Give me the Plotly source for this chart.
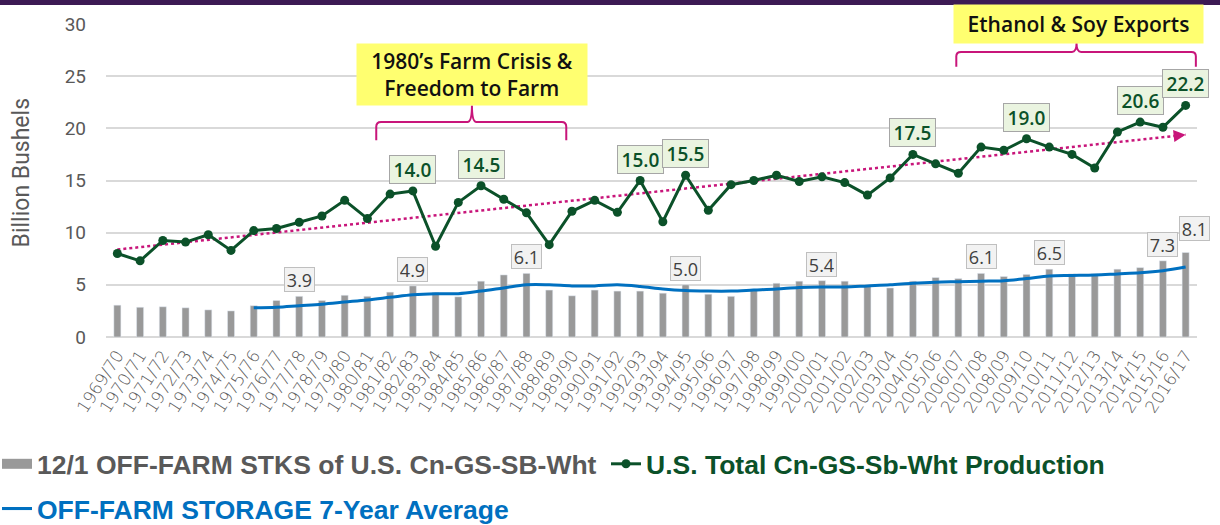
import numpy as np
import plotly.graph_objects as go

# marketing years
seasons = [
    "1969/70", "1970/71", "1971/72", "1972/73", "1973/74", "1974/75", "1975/76",
    "1976/77", "1977/78", "1978/79", "1979/80", "1980/81", "1981/82", "1982/83",
    "1983/84", "1984/85", "1985/86", "1986/87", "1987/88", "1988/89", "1989/90",
    "1990/91", "1991/92", "1992/93", "1993/94", "1994/95", "1995/96", "1996/97",
    "1997/98", "1998/99", "1999/00", "2000/01", "2001/02", "2002/03", "2003/04",
    "2004/05", "2005/06", "2006/07", "2007/08", "2008/09", "2009/10", "2010/11",
    "2011/12", "2012/13", "2013/14", "2014/15", "2015/16", "2016/17",
]

# 12/1 off-farm stocks, billion bushels
off_farm_stocks = [
    3.05, 2.85, 2.9, 2.8, 2.6, 2.5, 3.0, 3.5, 3.9, 3.5, 4.0, 3.9, 4.3, 4.9,
    4.25, 3.85, 5.35, 5.95, 6.1, 4.5, 3.95, 4.5, 4.4, 4.4, 4.2, 5.0, 4.1, 3.9,
    4.6, 5.15, 5.35, 5.4, 5.35, 4.85, 4.7, 5.35, 5.7, 5.6, 6.1, 5.8, 6.0, 6.5,
    6.05, 6.05, 6.5, 6.65, 7.3, 8.1,
]

# total corn / sorghum / soybean / wheat production
production = [
    8.0, 7.3, 9.25, 9.1, 9.8, 8.3, 10.2, 10.4, 11.0, 11.6, 13.1, 11.35, 13.7,
    14.0, 8.7, 12.9, 14.5, 13.2, 11.9, 8.85, 12.05, 13.1, 11.95, 15.0, 11.05,
    15.5, 12.15, 14.6, 15.0, 15.5, 14.9, 15.35, 14.8, 13.6, 15.25, 17.5, 16.6,
    15.7, 18.2, 17.9, 19.0, 18.2, 17.5, 16.2, 19.65, 20.6, 20.1, 22.2,
]

# off-farm storage 7-year average (starts 1975/76)
avg_7yr = [
    None, None, None, None, None, None, 2.8, 2.85, 3.0, 3.15, 3.35, 3.55, 3.8,
    4.05, 4.15, 4.15, 4.4, 4.7, 5.0, 5.0, 4.9, 4.9, 5.0, 4.85, 4.6, 4.45, 4.4,
    4.4, 4.5, 4.6, 4.75, 4.8, 4.8, 4.9, 5.0, 5.15, 5.25, 5.3, 5.35, 5.4, 5.6,
    5.85, 5.9, 5.95, 6.05, 6.15, 6.35, 6.7,
]

prod_labeled = ["1982/83", "1985/86", "1992/93", "1994/95", "2004/05",
                "2009/10", "2014/15", "2016/17"]
stocks_labeled = ["1977/78", "1982/83", "1987/88", "1994/95", "2000/01",
                  "2007/08", "2010/11", "2015/16", "2016/17"]

GREEN = "#0B5129"
BLUE = "#0070C0"
GRAY = "#999999"
MAGENTA = "#C8157A"
TXT = "#595959"

xi = list(range(len(seasons)))
coef = np.polyfit(xi, production, 1)
trend = np.polyval(coef, xi)

fig = go.Figure()

fig.add_trace(go.Bar(
    x=xi, y=off_farm_stocks, width=0.31, marker_color=GRAY,
    showlegend=False,
))
fig.add_trace(go.Scatter(
    x=xi, y=avg_7yr, mode="lines", line=dict(color=BLUE, width=3, shape="spline"),
    name="OFF-FARM STORAGE 7-Year Average", legend="legend3",
))
fig.add_trace(go.Scatter(
    x=xi, y=trend, mode="lines", line=dict(color=MAGENTA, width=2.5, dash="dot"),
    showlegend=False,
))
fig.add_trace(go.Scatter(
    x=xi, y=production, mode="lines+markers",
    line=dict(color=GREEN, width=3), marker=dict(size=9, color=GREEN),
    name="U.S. Total Cn-GS-Sb-Wht Production", legend="legend2",
))
# legend swatch for the bars
fig.add_trace(go.Scatter(
    x=[None], y=[None], mode="lines", line=dict(color=GRAY, width=14),
    name="12/1 OFF-FARM STKS of U.S. Cn-GS-SB-Wht", legend="legend",
))

# arrow head on the trend line
fig.add_annotation(
    x=xi[-1], y=trend[-1], ax=xi[-1] - 0.3, ay=trend[-2] + (trend[-1] - trend[-2]) * 0.7,
    xref="x", yref="y", axref="x", ayref="y", text="", showarrow=True,
    arrowhead=2, arrowsize=1.2, arrowwidth=2, arrowcolor=MAGENTA,
)

# data labels
for s in prod_labeled:
    i = seasons.index(s)
    fig.add_annotation(
        x=i, y=production[i], text=f"{production[i]:.1f}", showarrow=False,
        yanchor="bottom", yshift=7, width=39, height=21, borderpad=3,
        bgcolor="#EAF4E0", bordercolor="#A6A6A6", borderwidth=1,
        font=dict(family="Open Sans", size=19, color=GREEN, weight=600),
    )
for s in stocks_labeled:
    i = seasons.index(s)
    last = i == len(seasons) - 1
    fig.add_annotation(
        x=i, y=off_farm_stocks[i], text=f"{off_farm_stocks[i]:.1f}", showarrow=False,
        yanchor="bottom", yshift=11 if last else 4, xshift=9 if last else 0,
        width=25, height=19, borderpad=2,
        bgcolor="#F2F2F2", bordercolor="#BFBFBF", borderwidth=1,
        font=dict(family="Open Sans", size=18, color="#404040"),
    )

# callouts
callout_font = dict(family="Open Sans", size=21, color="#111111", weight=600)
fig.add_annotation(
    x=15.6, y=25.2, text="1980’s Farm Crisis &<br>Freedom to Farm", showarrow=False,
    bgcolor="#FFFF70", width=226, height=57, borderpad=2, font=callout_font,
)
fig.add_annotation(
    x=42.3, y=30.0, text="Ethanol & Soy Exports", showarrow=False,
    bgcolor="#FFFF70", width=245, height=34, borderpad=2, font=callout_font,
)
bracket = dict(color=MAGENTA, width=2)
fig.add_shape(
    type="path", xref="x", yref="y", line=bracket,
    path="M 11.39,18.86 L 11.39,20.15 Q 11.39,20.61 11.6,20.61 L 15.4,20.61 "
         "Q 15.6,20.61 15.6,22.2 Q 15.6,20.61 15.8,20.61 L 19.55,20.61 "
         "Q 19.75,20.61 19.75,20.15 L 19.75,18.86",
)
fig.add_shape(
    type="path", xref="x", yref="y", line=bracket,
    path="M 36.91,25.9 L 36.91,26.9 Q 36.91,27.32 37.12,27.32 L 42.0,27.32 "
         "Q 42.2,27.32 42.2,28.15 Q 42.2,27.32 42.4,27.32 L 47.25,27.32 "
         "Q 47.45,27.32 47.45,26.9 L 47.45,25.9",
)

# purple band along the top edge
fig.add_shape(type="rect", xref="paper", yref="paper", x0=-0.11, x1=1.03,
              y0=1.0607, y1=1.08, fillcolor="#3C1A54", line_width=0, layer="above")

# y axis title
fig.add_annotation(
    x=-0.0766, y=0.524, xref="paper", yref="paper", text="Billion Bushels",
    textangle=-90, showarrow=False, xanchor="center", yanchor="middle",
    font=dict(family="Roboto", size=23, color=TXT),
)

legend_common = dict(
    orientation="h", xanchor="left", yanchor="middle", bgcolor="rgba(0,0,0,0)",
    itemclick=False,
)
legend_font = dict(family="Liberation Sans", size=26.5, weight="bold")
fig.update_layout(
    width=1220, height=525,
    margin=dict(l=106, r=23, t=24, b=188, autoexpand=False),
    plot_bgcolor="white", paper_bgcolor="white",
    xaxis=dict(
        range=[-0.5, 47.5], tickmode="array", tickvals=xi, ticktext=seasons,
        tickangle=-57, showgrid=False, zeroline=False, showline=False,
        tickfont=dict(family="DejaVu Sans", size=17, color=TXT, weight=200),
        ticklabelstandoff=4,
    ),
    yaxis=dict(
        range=[0, 30], dtick=5, showgrid=True, gridcolor="#D9D9D9", gridwidth=1.5,
        zeroline=True, zerolinecolor="#D9D9D9", zerolinewidth=2, showline=False,
        tickfont=dict(family="Roboto", size=19, color=TXT), ticklabelstandoff=19,
    ),
    legend=dict(x=-0.0999, y=-0.406, font=dict(color=TXT, **legend_font),
                **legend_common),
    legend2=dict(x=0.4583, y=-0.406, font=dict(color=GREEN, **legend_font),
                 **legend_common),
    legend3=dict(x=-0.0999, y=-0.549, font=dict(color=BLUE, **legend_font),
                 **legend_common),
)

fig.write_html("out.html", config={"displayModeBar": False},
               post_script="document.body.style.margin = '0px';")
